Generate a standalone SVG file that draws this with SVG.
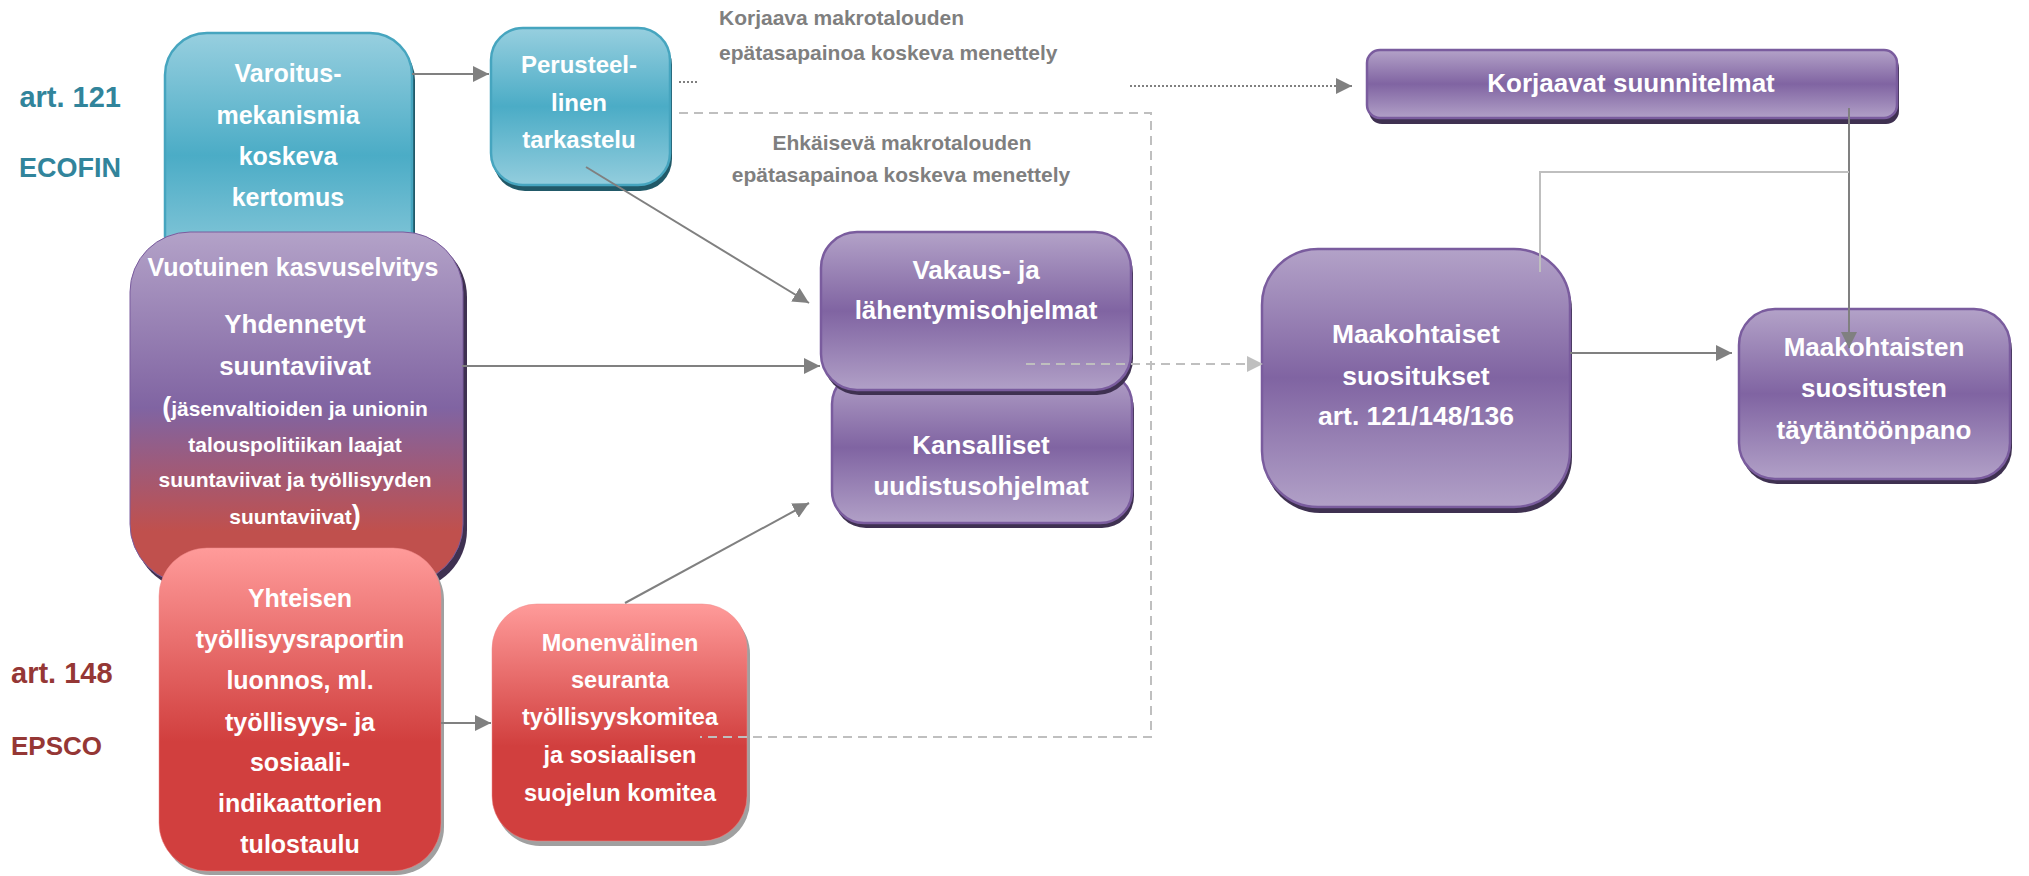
<svg xmlns="http://www.w3.org/2000/svg" width="2029" height="876" viewBox="0 0 2029 876">
<defs>
<linearGradient id="gTeal" x1="0" y1="0" x2="0" y2="1">
<stop offset="0" stop-color="#97CFDF"/><stop offset="0.5" stop-color="#4BACC6"/><stop offset="1" stop-color="#93CDDD"/>
</linearGradient>
<linearGradient id="gPurple" x1="0" y1="0" x2="0" y2="1">
<stop offset="0" stop-color="#B3A2C8"/><stop offset="0.5" stop-color="#8064A2"/><stop offset="1" stop-color="#B1A0C7"/>
</linearGradient>
<linearGradient id="gMix" x1="0" y1="0" x2="0" y2="1">
<stop offset="0" stop-color="#B3A2C8"/><stop offset="0.5" stop-color="#8064A2"/><stop offset="0.85" stop-color="#C0504D"/><stop offset="1" stop-color="#C0504D"/>
</linearGradient>
<linearGradient id="gRed" x1="0" y1="0" x2="0" y2="1">
<stop offset="0" stop-color="#FF9B9A"/><stop offset="0.6" stop-color="#D13F3E"/><stop offset="1" stop-color="#D13F3E"/>
</linearGradient>
<marker id="ah" viewBox="0 0 16 16" refX="16" refY="8" markerWidth="16" markerHeight="16" markerUnits="userSpaceOnUse" orient="auto">
<path d="M0,0 L16,8 L0,16 z" fill="#808080"/>
</marker>
<marker id="ahl" viewBox="0 0 16 16" refX="16" refY="8" markerWidth="16" markerHeight="16" markerUnits="userSpaceOnUse" orient="auto">
<path d="M0,0 L16,8 L0,16 z" fill="#BFBFBF"/>
</marker>
<style>
text{font-family:"Liberation Sans",Arial,sans-serif;font-weight:bold}
.nt{fill:#FFFFFF;text-anchor:middle}
.teal{fill:url(#gTeal);stroke:#46A5BF;stroke-width:2.5}
.purple{fill:url(#gPurple);stroke:#7A5C9E;stroke-width:2.5}
.mix{fill:url(#gMix);stroke:#7A5C9E;stroke-width:1}
.red{fill:url(#gRed);stroke:#E88;stroke-width:0.5}
.shT{fill:#215968}
.shP{fill:#3F3151}
.shR{fill:#A0A0A0}
.lbl{fill:#7F7F7F;font-size:21px}
.con{fill:none;stroke:#808080;stroke-width:2}
.lite{fill:none;stroke:#BFBFBF;stroke-width:2}
</style>
</defs>
<rect width="2029" height="876" fill="#FFFFFF"/>

<g id="labels">
<text x="121" y="107" font-size="29" fill="#31849B" text-anchor="end">art. 121</text>
<text x="121" y="177" font-size="27" fill="#31849B" text-anchor="end">ECOFIN</text>
<text x="11" y="683" font-size="29" fill="#953735">art. 148</text>
<text x="11" y="755" font-size="26" fill="#953735">EPSCO</text>
<text class="lbl" x="719" y="25">Korjaava makrotalouden</text>
<text class="lbl" x="719" y="60">epätasapainoa koskeva menettely</text>
<text class="lbl" x="902" y="150" text-anchor="middle">Ehkäisevä makrotalouden</text>
<text class="lbl" x="901" y="182" text-anchor="middle">epätasapainoa koskeva menettely</text>
</g>

<g id="varoitus">
<rect class="shT" x="167" y="38" width="248" height="245" rx="42"/>
<rect class="teal" x="165" y="33" width="247" height="245" rx="42"/>
<text class="nt" font-size="25"><tspan x="288" y="82">Varoitus-</tspan><tspan x="288" y="124">mekanismia</tspan><tspan x="288" y="165">koskeva</tspan><tspan x="288" y="206">kertomus</tspan></text>
</g>

<g id="perusteellinen">
<rect class="shT" x="493" y="33" width="179" height="158" rx="32"/>
<rect class="teal" x="491" y="28" width="179" height="157" rx="32"/>
<text class="nt" font-size="24"><tspan x="579" y="73">Perusteel-</tspan><tspan x="579" y="111">linen</tspan><tspan x="579" y="148">tarkastelu</tspan></text>
</g>

<g id="vuotuinen">
<rect class="shP" x="134" y="237" width="333" height="353" rx="60"/>
<rect class="mix" x="130" y="232" width="333" height="352" rx="60"/>
<text class="nt" font-size="25" x="293" y="276">Vuotuinen kasvuselvitys</text>
<text class="nt" font-size="26"><tspan x="295" y="333">Yhdennetyt</tspan><tspan x="295" y="375">suuntaviivat</tspan></text>
<text class="nt" font-size="21"><tspan x="295" y="416"><tspan font-size="27">(</tspan>jäsenvaltioiden ja unionin</tspan><tspan x="295" y="452">talouspolitiikan laajat</tspan><tspan x="295" y="487">suuntaviivat ja työllisyyden</tspan><tspan x="295" y="524">suuntaviivat<tspan font-size="27">)</tspan></tspan></text>
</g>

<g id="yhteisen">
<rect class="shR" x="162" y="552" width="282" height="323" rx="48"/>
<rect class="red" x="159" y="548" width="282" height="323" rx="48"/>
<text class="nt" font-size="25"><tspan x="300" y="607">Yhteisen</tspan><tspan x="300" y="648">työllisyysraportin</tspan><tspan x="300" y="689">luonnos, ml.</tspan><tspan x="300" y="731">työllisyys- ja</tspan><tspan x="300" y="771">sosiaali-</tspan><tspan x="300" y="812">indikaattorien</tspan><tspan x="300" y="853">tulostaulu</tspan></text>
</g>

<g id="monenvalinen">
<rect class="shR" x="495" y="609" width="255" height="237" rx="45"/>
<rect class="red" x="492" y="604" width="255" height="237" rx="45"/>
<text class="nt" font-size="23.5"><tspan x="620" y="651">Monenvälinen</tspan><tspan x="620" y="688">seuranta</tspan><tspan x="620" y="725">työllisyyskomitea</tspan><tspan x="620" y="763">ja sosiaalisen</tspan><tspan x="620" y="801">suojelun komitea</tspan></text>
</g>

<g id="kansalliset">
<rect class="shP" x="834" y="377" width="300" height="151" rx="32"/>
<rect class="purple" x="832" y="372" width="300" height="151" rx="32"/>
<text class="nt" font-size="26"><tspan x="981" y="454">Kansalliset</tspan><tspan x="981" y="495">uudistusohjelmat</tspan></text>
</g>

<g id="vakaus">
<rect class="shP" x="823" y="237" width="310" height="158" rx="36"/>
<rect class="purple" x="821" y="232" width="310" height="158" rx="36"/>
<text class="nt" font-size="26"><tspan x="976" y="279">Vakaus- ja</tspan><tspan x="976" y="319">lähentymisohjelmat</tspan></text>
</g>

<g id="korjaavat">
<rect class="shP" x="1369" y="55" width="530" height="69" rx="13"/>
<rect class="purple" x="1367" y="50" width="530" height="68" rx="13"/>
<text class="nt" font-size="26" x="1631" y="92">Korjaavat suunnitelmat</text>
</g>

<g id="maakohtaiset">
<rect class="shP" x="1264" y="254" width="308" height="259" rx="56"/>
<rect class="purple" x="1262" y="249" width="308" height="258" rx="56"/>
<text class="nt" font-size="26.5"><tspan x="1416" y="343">Maakohtaiset</tspan><tspan x="1416" y="385">suositukset</tspan><tspan x="1416" y="425">art. 121/148/136</tspan></text>
</g>

<g id="taytantoonpano">
<rect class="shP" x="1741" y="314" width="271" height="170" rx="36"/>
<rect class="purple" x="1739" y="309" width="271" height="170" rx="36"/>
<text class="nt" font-size="26"><tspan x="1874" y="356">Maakohtaisten</tspan><tspan x="1874" y="397">suositusten</tspan><tspan x="1874" y="439">täytäntöönpano</tspan></text>
</g>

<g id="connectors">
<line class="con" x1="412" y1="74" x2="489" y2="74" marker-end="url(#ah)"/>
<line class="con" x1="586" y1="167" x2="809" y2="303" marker-end="url(#ah)"/>
<line class="con" x1="462" y1="366" x2="820" y2="366" marker-end="url(#ah)"/>
<line class="con" x1="625" y1="603" x2="809" y2="503" marker-end="url(#ah)"/>
<line class="con" x1="441" y1="723" x2="491" y2="723" marker-end="url(#ah)"/>
<line class="con" x1="679" y1="82" x2="698" y2="82" stroke-dasharray="2,2"/>
<line class="con" x1="1130" y1="86" x2="1352" y2="86" stroke-dasharray="2,2" marker-end="url(#ah)"/>
<path class="lite" d="M679,113 H1151 V737 H700" stroke-dasharray="9,6"/>
<line class="lite" x1="1026" y1="364" x2="1263" y2="364" stroke-dasharray="9,6" marker-end="url(#ahl)"/>
<line class="con" x1="1570" y1="353" x2="1732" y2="353" marker-end="url(#ah)"/>
<line class="con" x1="1849" y1="108" x2="1849" y2="348" stroke="#8C8C8C" marker-end="url(#ah)"/>
<path class="lite" d="M1849,172 H1540 V272" stroke="#A6A6A6"/>
</g>
</svg>
